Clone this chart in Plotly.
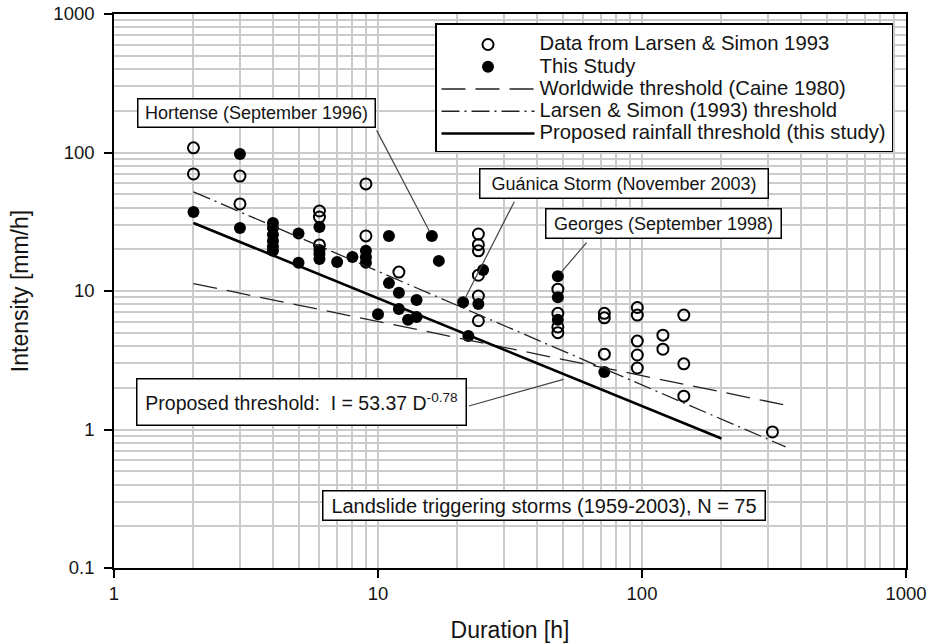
import numpy as np
import plotly.graph_objects as go

# ---------------- data ----------------
# Larsen & Simon 1993 (open circles)
ls_duration = [2, 2, 3, 3, 6, 6, 6, 9, 9, 12,
               24, 24, 24, 24, 24, 24, 48, 48, 48, 48,
               72, 72, 72, 96, 96, 96, 96, 96, 120, 120,
               144, 144, 144, 312]
ls_intensity = [108, 70, 67.6, 42.5, 37.8, 34.2, 21.5, 59.3, 25, 13.7,
                25.8, 21.6, 19.5, 13.0, 9.2, 6.1, 10.3, 6.9, 5.5, 5.0,
                6.9, 6.4, 3.5, 7.6, 6.7, 4.35, 3.45, 2.78, 4.8, 3.8,
                6.7, 2.98, 1.74, 0.96]

# This study (filled circles)
study_duration = [2, 3, 3, 4, 4, 4, 4, 4, 4, 5,
                  5, 6, 6, 6, 6, 7, 8, 9, 9, 9,
                  10, 11, 11, 12, 12, 13, 14, 14, 16, 17,
                  21, 22, 24, 25, 48, 48, 48, 72]
study_intensity = [37.2, 97.5, 28.5, 31, 28.5, 25.5, 23, 21, 19.5, 26,
                   16, 29, 19.8, 18.5, 17, 16.2, 17.6, 19.5, 17.5, 16,
                   6.8, 25, 11.4, 9.7, 7.4, 6.2, 8.6, 6.5, 25, 16.5,
                   8.3, 4.73, 8.05, 14.2, 12.8, 9.0, 6.2, 2.6]

# Threshold lines (end points)
caine_duration = [2, 350]
caine_intensity = [11.3, 1.5]
ls_thr_duration = [2, 350]
ls_thr_intensity = [52, 0.75]
prop_duration = [2, 200]
prop_intensity = [31, 0.86]

# Labelled storms
storm_labels = ["Hortense (September 1996)",
                "Guánica Storm (November 2003)",
                "Georges (September 1998)"]
storm_duration = [16, 21, 48]
storm_intensity = [25, 8.3, 12.8]

# point on the proposed threshold where its callout ends
callout_duration = 50.4
callout_intensity = 2.3

legend_names = ["Data from Larsen &amp; Simon 1993",
                "This Study",
                "Worldwide threshold (Caine 1980)",
                "Larsen &amp; Simon (1993) threshold",
                "Proposed rainfall threshold (this study)"]

x_ticks = [1, 10, 100, 1000]
y_ticks = [0.1, 1, 10, 100, 1000]

# ---------------- figure ----------------
FONT = "Arial, 'Liberation Sans', sans-serif"
TXT = "#141414"


def big(s):
    return '<span style="font-size:20.3px">' + s + '</span>'


fig = go.Figure()
fig.add_trace(go.Scatter(
    x=ls_duration, y=ls_intensity, mode="markers", name=big(legend_names[0]),
    marker=dict(symbol="circle-open", size=11, color="black", line=dict(width=2, color="black"))))
fig.add_trace(go.Scatter(
    x=study_duration, y=study_intensity, mode="markers", name=big(legend_names[1]),
    marker=dict(symbol="circle", size=12, color="black")))
fig.add_trace(go.Scatter(
    x=caine_duration, y=caine_intensity, mode="lines", name=big(legend_names[2]),
    line=dict(color="#222", width=1.3, dash="24px,10px")))
fig.add_trace(go.Scatter(
    x=ls_thr_duration, y=ls_thr_intensity, mode="lines", name=big(legend_names[3]),
    line=dict(color="#222", width=1.3, dash="18px,5px,2px,5px")))
fig.add_trace(go.Scatter(
    x=prop_duration, y=prop_intensity, mode="lines", name=big(legend_names[4]),
    line=dict(color="black", width=2.6)))

x_minor = [m * d for d in [1, 10, 100] for m in range(2, 10)]
y_minor = [m * d for d in [0.1, 1, 10, 100] for m in range(2, 10)]

GRID = "#cbcbcb"
axis_common = dict(
    type="log", showline=True, linecolor="black", linewidth=1.6, mirror=True,
    ticks="outside", ticklen=8, tickwidth=1.5, tickcolor="black",
    showgrid=True, gridcolor=GRID, gridwidth=1.5, zeroline=False,
    tickfont=dict(family=FONT, size=18.5, color=TXT), automargin=False,
    ticklabeloverflow="allow",
)

fig.update_xaxes(
    **axis_common, range=[0, 3], tickmode="array", tickvals=x_ticks,
    ticktext=[str(v) for v in x_ticks],
    minor=dict(tickmode="array", tickvals=x_minor, showgrid=True, gridcolor=GRID, gridwidth=1.5, ticks=""),
    title=dict(text="Duration [h]", font=dict(family=FONT, size=23, color=TXT), standoff=28),
)
fig.update_yaxes(
    **axis_common, range=[-1, 3], tickmode="array", tickvals=y_ticks,
    ticktext=["0.1", "1", "10", "100", "1000"], ticklabelstandoff=6,
    minor=dict(tickmode="array", tickvals=y_minor, showgrid=True, gridcolor=GRID, gridwidth=1.5, ticks=""),
    title=dict(text="Intensity [mm/h]", font=dict(family=FONT, size=23, color=TXT), standoff=18),
)

box = dict(bgcolor="white", bordercolor="black", borderwidth=1.5, borderpad=2,
           showarrow=False, xref="paper", yref="paper", xanchor="center", yanchor="middle")

# storm label boxes (paper positions) and callout arrows
storm_box = [(0.1799, 0.8213, 232, 23), (0.6439, 0.6941, 283, 24), (0.6938, 0.6218, 230, 24)]
storm_tail = [(-56, -107), (52, -102), (30, -35)]
for lab, (bx, by, w, h), sd, si, (ax, ay) in zip(storm_labels, storm_box, storm_duration,
                                                 storm_intensity, storm_tail):
    fig.add_annotation(text=lab, x=bx, y=by, width=w, height=h,
                       font=dict(family=FONT, size=18, color=TXT), **box)
    fig.add_annotation(x=np.log10(sd), y=np.log10(si), xref="x", yref="y", text="",
                       showarrow=True, arrowhead=0, arrowwidth=1.2, arrowcolor="#444",
                       ax=ax, ay=ay, standoff=5)

fig.add_annotation(text="Proposed threshold: &nbsp;I = 53.37 D<sup>-0.78</sup>",
                   x=0.2367, y=0.2996, width=324, height=41,
                   font=dict(family=FONT, size=19.5, color=TXT), **box)
fig.add_annotation(x=np.log10(callout_duration), y=np.log10(callout_intensity), xref="x", yref="y",
                   text="", showarrow=True, arrowhead=0, arrowwidth=1.2, arrowcolor="#444",
                   ax=-96, ay=27)
fig.add_annotation(text="Landslide triggering storms (1959-2003), N = 75",
                   x=0.5429, y=0.1128, width=437, height=24,
                   font=dict(family=FONT, size=20, color=TXT), **box)

fig.update_layout(
    width=930, height=643,
    margin=dict(l=114, r=24, t=14, b=75),
    paper_bgcolor="white", plot_bgcolor="white",
    font=dict(family=FONT, color=TXT),
    legend=dict(x=(435 - 114) / 792, y=1 - (23 - 14) / 554, xanchor="left", yanchor="top",
                bgcolor="white", bordercolor="black", borderwidth=1.5,
                font=dict(family=FONT, size=14.8, color=TXT), itemwidth=93,
                tracegroupgap=0, title=dict(text=" ", font=dict(size=3))),
)

# remove the default 8px page margin so the 930x643 figure fills the window exactly
fig.write_html("out.html", config={"displayModeBar": False},
               post_script="document.body.style.margin='0';")
